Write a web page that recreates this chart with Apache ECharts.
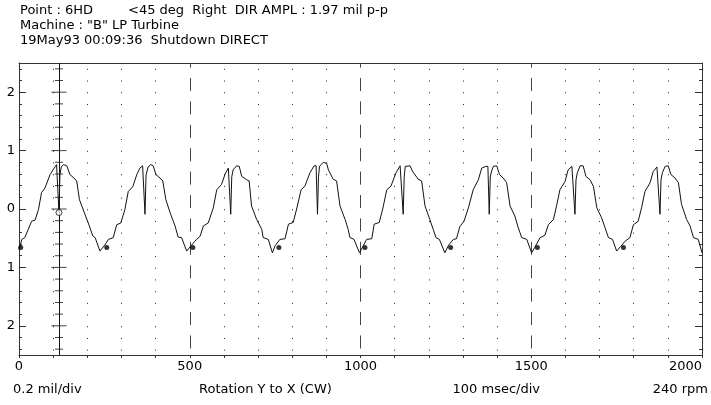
<!DOCTYPE html>
<html>
<head>
<meta charset="utf-8">
<script src="https://cdn.jsdelivr.net/npm/echarts@6/dist/echarts.min.js"></script>
<style>
html,body{margin:0;padding:0;background:#fff;}
#chart{width:711px;height:405px;}
</style>
</head>
<body>
<div id="chart"></div>
<script>
// ---- data ----
const waveX = [0,4,8,17,27,37,47,57,66,76,91,103,110,114,117,120,124,130,140,149,161,169,177,193,206,216,223,237,
251,262,276,286,298,310,320,333,345,354,362,366,369,372,378,386,393,401,413,421,430,444,457,466,476,491,
505,520,530,540,554,569,579,593,603,613,617,620,623,627,637,645,652,667,674,681,696,711,715,730,742,
750,764,779,789,803,813,826,837,852,864,870,874,877,880,891,901,906,920,930,940,955,964,969,981,997,
1008,1018,1033,1040,1055,1065,1077,1089,1104,1116,1121,1125,1128,1131,1145,1153,1169,1179,1189,1203,1213,1221,1231,1247,
1258,1272,1281,1291,1303,1316,1330,1345,1355,1367,1373,1377,1380,1384,1389,1399,1407,1418,1428,1438,1452,1462,1472,1487,1501,
1510,1526,1540,1550,1565,1574,1584,1599,1608,1619,1624,1628,1631,1635,1643,1652,1660,1672,1682,1692,1706,1716,1726,1738,1750,
1762,1775,1789,1799,1813,1823,1833,1848,1857,1868,1873,1877,1880,1884,1892,1901,1909,1921,1931,1940,1955,1965,1975,1989,2000];
const waveY = [-0.70,-0.62,-0.52,-0.49,-0.35,-0.21,-0.19,-0.01,0.28,0.36,0.59,0.70,0.76,0.74,-0.06,0.60,0.72,0.76,0.74,0.59,0.53,0.48,0.16,-0.09,-0.29,-0.46,-0.49,-0.72,
-0.62,-0.52,-0.49,-0.27,-0.24,-0.01,0.30,0.38,0.59,0.70,0.74,0.74,-0.09,0.58,0.72,0.76,0.74,0.59,0.53,0.48,0.16,-0.09,-0.29,-0.48,-0.49,-0.72,
-0.62,-0.52,-0.47,-0.29,-0.24,0.02,0.33,0.42,0.59,0.70,0.73,-0.09,0.55,0.67,0.74,0.73,0.56,0.50,0.48,0.05,-0.18,-0.35,-0.49,-0.52,-0.75,
-0.63,-0.52,-0.51,-0.26,-0.23,0.00,0.33,0.39,0.62,0.74,0.74,-0.09,0.55,0.73,0.80,0.78,0.67,0.51,0.48,0.05,-0.18,-0.35,-0.49,-0.52,-0.75,
-0.63,-0.52,-0.51,-0.26,-0.23,0.00,0.33,0.39,0.62,0.74,0.74,-0.09,0.55,0.73,0.74,0.64,0.51,0.48,0.05,-0.18,-0.35,-0.49,-0.52,-0.75,
-0.62,-0.52,-0.51,-0.30,-0.21,0.02,0.33,0.50,0.70,0.73,0.73,-0.09,0.55,0.65,0.73,0.74,0.59,0.53,0.45,0.05,-0.12,-0.32,-0.49,-0.52,-0.75,
-0.66,-0.49,-0.45,-0.27,-0.18,0.05,0.33,0.47,0.67,0.73,0.74,-0.09,0.50,0.62,0.74,0.74,0.56,0.50,0.39,0.02,-0.15,-0.32,-0.49,-0.52,-0.72,
-0.64,-0.55,-0.49,-0.27,-0.21,0.02,0.30,0.45,0.64,0.72,0.73,-0.09,0.50,0.62,0.73,0.74,0.59,0.53,0.45,0.08,-0.18,-0.29,-0.49,-0.52,-0.75];
const keyX = [5,257,509,761,1013,1264,1518,1770];
const keyY = [-0.66,-0.66,-0.66,-0.66,-0.66,-0.66,-0.66,-0.66];
const cursorX = 117;
const cursorY = -0.06;
const yMajorTicks = [-2,-1,0,1,2];
const yMinorTicks = [-2.4,-2.2,-2,-1.8,-1.6,-1.4,-1.2,-1,-0.8,-0.6,-0.4,-0.2,0,0.2,0.4,0.6,0.8,1,1.2,1.4,1.6,1.8,2,2.2,2.4];
const xTickLabels = [0,500,1000,1500,2000];
const headerLines = ['Point : 6HD', '<45 deg  Right  DIR AMPL : 1.97 mil p-p', 'Machine : "B" LP Turbine', '19May93 00:09:36  Shutdown DIRECT'];
const footerTexts = ['0.2 mil/div', 'Rotation Y to X (CW)', '100 msec/div', '240 rpm'];

// ---- build chart ----
const FONT = "'DejaVu Sans', 'Liberation Sans', Arial, sans-serif";
const FS = 13;
const AX = '#333';
const wave = waveX.map((x, i) => [x, waveY[i]]);
const keys = keyX.map((x, i) => [x, keyY[i]]);
const curMinor = yMinorTicks.filter(v => yMajorTicks.indexOf(v) < 0).map(v => [cursorX, v]);
const curMajor = yMajorTicks.map(v => [cursorX, v]);

const chart = echarts.init(document.getElementById('chart'), null, {renderer: 'canvas'});
const yBase = {type: 'value', min: -2.5, max: 2.5, gridIndex: 0, splitLine: {show: false}};
const txt = (t) => ({text: t, font: FS + 'px ' + FONT, fill: '#000'});
chart.setOption({
  animation: false,
  backgroundColor: '#fff',
  grid: {left: 19, top: 63, width: 683, height: 292, containLabel: false},
  xAxis: [
    {type: 'value', min: 0, max: 2000, interval: 100, position: 'bottom',
     axisLine: {show: true, onZero: false, lineStyle: {color: AX, width: 1}},
     axisTick: {show: true, length: 3, lineStyle: {color: AX}},
     axisLabel: {show: true, color: '#000', fontFamily: FONT, fontSize: FS, margin: 5,
       alignMaxLabel: 'right',
       formatter: v => xTickLabels.indexOf(v) >= 0 ? String(v) : ''},
     splitLine: {show: true, lineStyle: {color: ['rgba(0,0,0,0)', '#222', '#222', '#222', '#222'], width: 1, type: [1, 10.7], dashOffset: 5.85}}},
    {type: 'value', min: 0, max: 2000, interval: 500, position: 'top',
     axisLine: {show: true, onZero: false, lineStyle: {color: AX, width: 1}},
     axisTick: {show: false}, axisLabel: {show: false},
     splitLine: {show: true, showMinLine: false, showMaxLine: false, lineStyle: {color: '#444', width: 1, type: [13, 10.4], dashOffset: 8.35}}}
  ],
  yAxis: [
    Object.assign({}, yBase, {position: 'left',
      axisLine: {show: true, onZero: false, lineStyle: {color: AX}},
      axisTick: {show: true, inside: true, length: 3, customValues: yMinorTicks, lineStyle: {color: AX}},
      axisLabel: {show: true, customValues: yMajorTicks, color: '#000', fontFamily: FONT, fontSize: FS, margin: 4,
        formatter: v => String(Math.abs(v))}}),
    Object.assign({}, yBase, {position: 'left',
      axisLine: {show: false, onZero: false},
      axisTick: {show: true, inside: true, length: 7, customValues: yMajorTicks, lineStyle: {color: AX}},
      axisLabel: {show: false}}),
    Object.assign({}, yBase, {position: 'right',
      axisLine: {show: true, onZero: false, lineStyle: {color: AX}},
      axisTick: {show: true, inside: true, length: 3, customValues: yMinorTicks, lineStyle: {color: AX}},
      axisLabel: {show: false}}),
    Object.assign({}, yBase, {position: 'right',
      axisLine: {show: false, onZero: false},
      axisTick: {show: true, inside: true, length: 7, customValues: yMajorTicks, lineStyle: {color: AX}},
      axisLabel: {show: false}})
  ],
  series: [
    {type: 'line', data: wave, xAxisIndex: 0, yAxisIndex: 0, symbol: 'none', smooth: false,
     lineStyle: {color: '#111', width: 1}, z: 3,
     markLine: {silent: true, symbol: 'none', label: {show: false},
       lineStyle: {color: '#111', width: 1, type: 'solid'},
       data: [{xAxis: cursorX}]}},
    {type: 'scatter', data: curMinor, symbol: 'rect', symbolSize: [8, 1], itemStyle: {color: '#111'}, z: 4, silent: true},
    {type: 'scatter', data: curMajor, symbol: 'rect', symbolSize: [15, 1], itemStyle: {color: '#111'}, z: 4, silent: true},
    {type: 'scatter', data: keys, symbol: 'circle', symbolSize: 5, itemStyle: {color: '#000'}, z: 5, silent: true},
    {type: 'scatter', data: [[cursorX, cursorY]], symbol: 'circle', symbolSize: 6,
     itemStyle: {color: '#fff', borderColor: '#111', borderWidth: 1}, z: 6, silent: true}
  ],
  graphic: [
    {type: 'text', left: 20, top: 4, style: txt(headerLines[0])},
    {type: 'text', left: 128, top: 4, style: txt(headerLines[1])},
    {type: 'text', left: 20, top: 19, style: txt(headerLines[2])},
    {type: 'text', left: 20, top: 34, style: txt(headerLines[3])},
    {type: 'text', left: 13, top: 383, style: txt(footerTexts[0])},
    {type: 'text', left: 199, top: 383, style: txt(footerTexts[1])},
    {type: 'text', right: 171, top: 383, style: txt(footerTexts[2])},
    {type: 'text', right: 3, top: 383, style: txt(footerTexts[3])}
  ]
});
</script>
</body>
</html>
